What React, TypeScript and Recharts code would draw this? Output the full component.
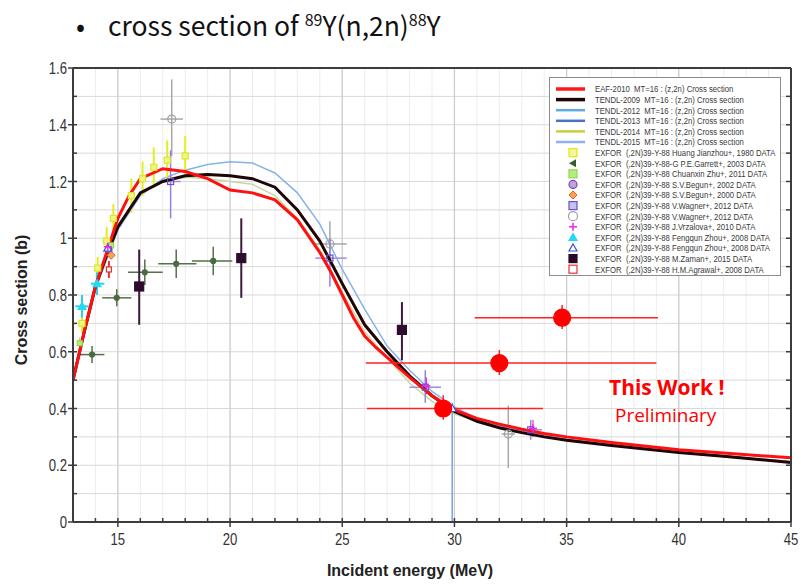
import React from 'react';
import {
  ComposedChart,
  Line,
  Scatter,
  XAxis,
  YAxis,
  CartesianGrid,
  ReferenceLine,
  ErrorBar,
} from 'recharts';

// ---- evaluated cross sections (energy in MeV, cross section in b) ----
const EAF_2010_E = [13, 13.5, 14, 14.5, 15, 15.5, 16, 17, 18, 19, 20, 21, 22, 23, 24, 24.5, 25, 25.5, 26, 26.5, 27, 28, 29, 30, 31, 32, 33, 34, 35, 37, 40, 42, 45];
const EAF_2010_XS = [0.5, 0.67, 0.83, 0.95, 1.07, 1.15, 1.21, 1.245, 1.235, 1.21, 1.17, 1.16, 1.135, 1.065, 0.95, 0.88, 0.8, 0.72, 0.655, 0.615, 0.58, 0.51, 0.445, 0.395, 0.365, 0.345, 0.327, 0.312, 0.3, 0.28, 0.255, 0.243, 0.226];

const TENDL_2009_E = [13, 13.5, 14, 14.5, 15, 16, 17, 18, 19, 20, 21, 22, 23, 24, 25, 26, 27, 28, 29, 30, 31, 32, 33, 34, 35, 37, 40, 42, 45];
const TENDL_2009_XS = [0.5, 0.67, 0.83, 0.94, 1.04, 1.16, 1.2, 1.22, 1.225, 1.22, 1.21, 1.18, 1.1, 0.99, 0.84, 0.695, 0.6, 0.515, 0.445, 0.39, 0.355, 0.332, 0.315, 0.3, 0.288, 0.27, 0.245, 0.232, 0.21];

const TENDL_2012_E = [13, 14, 15, 16, 17, 18, 19, 20, 21, 22, 23, 24, 25, 26, 27, 28, 29, 30, 32, 35, 40, 45];
const TENDL_2012_XS = [0.5, 0.83, 1.04, 1.16, 1.2, 1.22, 1.225, 1.22, 1.21, 1.18, 1.1, 0.99, 0.84, 0.695, 0.6, 0.515, 0.445, 0.39, 0.332, 0.288, 0.245, 0.21];

const TENDL_2013_E = [13, 14, 15, 16, 17, 18, 19, 20, 21, 22, 23, 24, 25, 26, 27, 28, 29, 30, 32, 35, 40, 45];
const TENDL_2013_XS = [0.5, 0.83, 1.04, 1.16, 1.2, 1.22, 1.225, 1.22, 1.21, 1.18, 1.1, 0.99, 0.84, 0.695, 0.6, 0.515, 0.445, 0.39, 0.332, 0.288, 0.245, 0.21];

const TENDL_2014_E = [13, 14, 15, 16, 17, 18, 19, 20, 21, 22, 23, 24, 25, 26, 27, 28, 29, 30, 32, 35, 40, 45];
const TENDL_2014_XS = [0.5, 0.83, 1.04, 1.16, 1.2, 1.215, 1.21, 1.2, 1.19, 1.15, 1.07, 0.96, 0.81, 0.67, 0.58, 0.49, 0.425, 0.38, 0.33, 0.287, 0.244, 0.21];

const TENDL_2015_E = [13, 14, 15, 16, 17, 18, 19, 20, 21, 22, 23, 24, 25, 26, 27, 28, 29, 30, 31, 32, 33, 35, 40, 45];
const TENDL_2015_XS = [0.5, 0.82, 1.03, 1.15, 1.21, 1.24, 1.26, 1.27, 1.265, 1.23, 1.16, 1.05, 0.89, 0.75, 0.62, 0.535, 0.46, 0.405, 0.365, 0.34, 0.32, 0.292, 0.248, 0.213];

// ---- EXFOR measurements: energy, value, energy range, value range ----
const HUANG_E = [13.4, 14.1, 14.5, 14.8, 15.6, 16.1, 16.6, 17.2, 18.0];
const HUANG_XS = [0.7, 0.895, 0.99, 1.07, 1.15, 1.21, 1.25, 1.275, 1.29];
const HUANG_DXS = [0.03, 0.04, 0.05, 0.05, 0.06, 0.06, 0.07, 0.07, 0.07];

const GARRETT_E = [13.85, 14.95, 16.2, 17.6, 19.25];
const GARRETT_XS = [0.59, 0.79, 0.88, 0.91, 0.92];
const GARRETT_E_LO = [13.3, 14.3, 15.45, 16.8, 18.3];
const GARRETT_E_HI = [14.4, 15.6, 17.0, 18.5, 20.1];
const GARRETT_DXS = [0.03, 0.03, 0.045, 0.05, 0.05];

const ZHU_E = [13.3, 14.7];
const ZHU_XS = [0.63, 0.975];
const ZHU_DXS = [0.02, 0.03];

const BEGUN02_E = [14.6];
const BEGUN02_XS = [0.96];
const BEGUN00_E = [14.7];
const BEGUN00_XS = [0.94];

const WAGNER_SQ_E = [17.35, 24.45, 28.7, 33.4];
const WAGNER_SQ_XS = [1.2, 0.93, 0.475, 0.325];
const WAGNER_SQ_E_LO = [16.95, 23.8, 28.0, 32.7];
const WAGNER_SQ_E_HI = [17.8, 25.2, 29.4, 33.9];
const WAGNER_SQ_XS_LO = [1.07, 0.83, 0.42, 0.29];
const WAGNER_SQ_XS_HI = [1.31, 1.0, 0.535, 0.36];

const WAGNER_CI_E = [17.4, 24.45, 32.4];
const WAGNER_CI_XS = [1.42, 0.98, 0.31];
const WAGNER_CI_E_LO = [16.9, 23.8, 32.1];
const WAGNER_CI_E_HI = [17.9, 25.2, 32.7];
const WAGNER_CI_XS_LO = [1.29, 0.93, 0.19];
const WAGNER_CI_XS_HI = [1.56, 1.06, 0.41];

const VRZALOVA_E = [14.55, 28.75, 33.5];
const VRZALOVA_XS = [0.97, 0.48, 0.33];
const VRZALOVA_DXS = [0.03, 0.03, 0.03];

const ZHOU_F_E = [13.4, 14.07];
const ZHOU_F_XS = [0.76, 0.84];
const ZHOU_F_E_LO = [13.1, 13.8];
const ZHOU_F_E_HI = [13.7, 14.4];
const ZHOU_F_DXS = [0.04, 0.04];

const ZHOU_O_E = [14.55, 29.9];
const ZHOU_O_XS = [0.965, 0.4];
const ZHOU_O_XS_LO = [0.94, 0.0];
const ZHOU_O_XS_HI = [0.99, 0.42];

const ZAMAN_E = [15.95, 20.5, 27.66];
const ZAMAN_XS = [0.83, 0.93, 0.677];
const ZAMAN_XS_LO = [0.695, 0.79, 0.57];
const ZAMAN_XS_HI = [0.96, 1.07, 0.775];

const AGRAWAL_E = [14.6];
const AGRAWAL_XS = [0.89];
const AGRAWAL_DXS = [0.03];

// ---- this work (preliminary) ----
const THIS_WORK_E = [29.5, 32.0, 34.8];
const THIS_WORK_XS = [0.4, 0.56, 0.72];
const THIS_WORK_E_LO = [26.1, 26.05, 30.9];
const THIS_WORK_E_HI = [33.95, 39.0, 39.07];
const THIS_WORK_XS_LO = [0.36, 0.518, 0.68];
const THIS_WORK_XS_HI = [0.447, 0.606, 0.765];

// ---- axes ----
const X_TICKS = [13, 14, 15, 16, 17, 18, 19, 20, 21, 22, 23, 24, 25, 26, 27, 28, 29, 30, 31, 32, 33, 34, 35, 36, 37, 38, 39, 40, 41, 42, 43, 44, 45];
const X_MAJOR = [15, 20, 25, 30, 35, 40];
const Y_TICKS = [0, 0.1, 0.2, 0.3, 0.4, 0.5, 0.6, 0.7, 0.8, 0.9, 1, 1.1, 1.2, 1.3, 1.4, 1.5, 1.6];

const SANS = "'Liberation Sans', Arial, sans-serif";
const FRAME = '#3c3c3c';

const curve = (e: number[], xs: number[]) => e.map((x, i) => ({ x, y: xs[i] }));

const points = (
  e: number[],
  xs: number[],
  eLo?: number[],
  eHi?: number[],
  yLo?: number[],
  yHi?: number[],
) =>
  e.map((x, i) => ({
    x,
    y: xs[i],
    ex: eLo && eHi ? [x - eLo[i], eHi[i] - x] : [0, 0],
    ey: yLo && yHi ? [xs[i] - yLo[i], yHi[i] - xs[i]] : [0, 0],
  }));

const sym = (v: number[], d: number[], sign: number) => v.map((y, i) => y + sign * d[i]);

const eafData = curve(EAF_2010_E, EAF_2010_XS);
const t09Data = curve(TENDL_2009_E, TENDL_2009_XS);
const t12Data = curve(TENDL_2012_E, TENDL_2012_XS);
const t13Data = curve(TENDL_2013_E, TENDL_2013_XS);
const t14Data = curve(TENDL_2014_E, TENDL_2014_XS);
const t15Data = curve(TENDL_2015_E, TENDL_2015_XS);

const huangData = points(HUANG_E, HUANG_XS, undefined, undefined, sym(HUANG_XS, HUANG_DXS, -1), sym(HUANG_XS, HUANG_DXS, 1));
const garrettData = points(GARRETT_E, GARRETT_XS, GARRETT_E_LO, GARRETT_E_HI, sym(GARRETT_XS, GARRETT_DXS, -1), sym(GARRETT_XS, GARRETT_DXS, 1));
const zhuData = points(ZHU_E, ZHU_XS, undefined, undefined, sym(ZHU_XS, ZHU_DXS, -1), sym(ZHU_XS, ZHU_DXS, 1));
const begun02Data = points(BEGUN02_E, BEGUN02_XS);
const begun00Data = points(BEGUN00_E, BEGUN00_XS);
const wagnerSqData = points(WAGNER_SQ_E, WAGNER_SQ_XS, WAGNER_SQ_E_LO, WAGNER_SQ_E_HI, WAGNER_SQ_XS_LO, WAGNER_SQ_XS_HI);
const wagnerCiData = points(WAGNER_CI_E, WAGNER_CI_XS, WAGNER_CI_E_LO, WAGNER_CI_E_HI, WAGNER_CI_XS_LO, WAGNER_CI_XS_HI);
const vrzalovaData = points(VRZALOVA_E, VRZALOVA_XS, undefined, undefined, sym(VRZALOVA_XS, VRZALOVA_DXS, -1), sym(VRZALOVA_XS, VRZALOVA_DXS, 1));
const zhouFData = points(ZHOU_F_E, ZHOU_F_XS, ZHOU_F_E_LO, ZHOU_F_E_HI, sym(ZHOU_F_XS, ZHOU_F_DXS, -1), sym(ZHOU_F_XS, ZHOU_F_DXS, 1));
const zhouOData = points(ZHOU_O_E, ZHOU_O_XS, undefined, undefined, ZHOU_O_XS_LO, ZHOU_O_XS_HI);
const zamanData = points(ZAMAN_E, ZAMAN_XS, undefined, undefined, ZAMAN_XS_LO, ZAMAN_XS_HI);
const agrawalData = points(AGRAWAL_E, AGRAWAL_XS, undefined, undefined, sym(AGRAWAL_XS, AGRAWAL_DXS, -1), sym(AGRAWAL_XS, AGRAWAL_DXS, 1));
const thisWorkData = points(THIS_WORK_E, THIS_WORK_XS, THIS_WORK_E_LO, THIS_WORK_E_HI, THIS_WORK_XS_LO, THIS_WORK_XS_HI);

// ---- marker shapes ----
type M = { cx?: number; cy?: number };
const mSquare = (fill: string, stroke: string, s = 7) => (p: M) => (
  <rect x={(p.cx ?? 0) - s / 2} y={(p.cy ?? 0) - s / 2} width={s} height={s} fill={fill} stroke={stroke} strokeWidth={1.2} />
);
const mCircle = (fill: string, stroke: string, r = 3.5) => (p: M) => (
  <circle cx={p.cx} cy={p.cy} r={r} fill={fill} stroke={stroke} strokeWidth={1.2} />
);
const mDiamond = (fill: string, stroke: string) => (p: M) => {
  const x = p.cx ?? 0, y = p.cy ?? 0;
  return <polygon points={`${x},${y - 4} ${x + 4},${y} ${x},${y + 4} ${x - 4},${y}`} fill={fill} stroke={stroke} />;
};
const mTriangle = (fill: string, stroke: string) => (p: M) => {
  const x = p.cx ?? 0, y = p.cy ?? 0;
  return <polygon points={`${x},${y - 4} ${x + 4},${y + 3} ${x - 4},${y + 3}`} fill={fill} stroke={stroke} strokeWidth={1.2} />;
};
const mPlus = (stroke: string) => (p: M) => {
  const x = p.cx ?? 0, y = p.cy ?? 0;
  return (
    <g stroke={stroke} strokeWidth={1.5}>
      <line x1={x - 4} x2={x + 4} y1={y} y2={y} />
      <line x1={x} x2={x} y1={y - 4} y2={y + 4} />
    </g>
  );
};
const mLeftTri = (fill: string) => (p: M) => {
  const x = p.cx ?? 0, y = p.cy ?? 0;
  return <polygon points={`${x - 4},${y} ${x + 3},${y - 4} ${x + 3},${y + 4}`} fill={fill} />;
};

// narrow-looking tick label (regular sans squeezed horizontally)
const TickText = ({ x, y, anchor, children }: { x: number; y: number; anchor: 'middle' | 'end'; children: React.ReactNode }) => (
  <text
    transform={`translate(${x},${y}) scale(0.82,1)`}
    x={0}
    y={0}
    textAnchor={anchor}
    fontSize={16}
    fill="#333"
    fontFamily={SANS}
  >
    {children}
  </text>
);

// ---- axis ticks ----
const BottomTick = (props: any) => {
  const { x, y, payload } = props;
  const v = payload.value as number;
  const major = v % 5 === 0;
  return (
    <g>
      <line x1={x} x2={x} y1={y - 4} y2={major ? y + 5 : y} stroke={FRAME} strokeWidth={1.5} />
      {major && (
        <TickText x={x} y={y + 23} anchor="middle">
          {v}
        </TickText>
      )}
    </g>
  );
};

const TopTick = (props: any) => {
  const { x, y } = props;
  return <line x1={x} x2={x} y1={y} y2={y + 4} stroke={FRAME} strokeWidth={1.5} />;
};

const LeftTick = (props: any) => {
  const { x, y, payload } = props;
  const v = payload.value as number;
  const major = Math.round(v * 10) % 2 === 0;
  return (
    <g>
      <line x1={major ? x - 5 : x} x2={x + 4} y1={y} y2={y} stroke={FRAME} strokeWidth={1.5} />
      {major && (
        <TickText x={x - 6} y={y + 6} anchor="end">
          {v === 0 || v === 1 ? String(v) : v.toFixed(1)}
        </TickText>
      )}
    </g>
  );
};

const RightTick = (props: any) => {
  const { x, y } = props;
  return <line x1={x - 5} x2={x} y1={y} y2={y} stroke={FRAME} strokeWidth={1.5} />;
};

// ---- legend ----
const LEGEND_LINES = [
  { label: 'EAF-2010  MT=16 : (z,2n) Cross section', color: '#ff1a1a', w: 3.5 },
  { label: 'TENDL-2009  MT=16 : (z,2n) Cross section', color: '#1e0606', w: 3.5 },
  { label: 'TENDL-2012  MT=16 : (z,2n) Cross section', color: '#62a8e4', w: 2.5 },
  { label: 'TENDL-2013  MT=16 : (z,2n) Cross section', color: '#4a72c4', w: 2.5 },
  { label: 'TENDL-2014  MT=16 : (z,2n) Cross section', color: '#c9d040', w: 2.5 },
  { label: 'TENDL-2015  MT=16 : (z,2n) Cross section', color: '#8fb0f0', w: 2.5 },
];

const LEGEND_POINTS = [
  { label: 'EXFOR  (,2N)39-Y-88 Huang Jianzhou+, 1980 DATA', shape: mSquare('#f2f7a0', '#e0ea10', 8) },
  { label: 'EXFOR  (,2N)39-Y-88-G P.E.Garrett+, 2003 DATA', shape: mLeftTri('#3c5a30') },
  { label: 'EXFOR  (,2N)39-Y-88 Chuanxin Zhu+, 2011 DATA', shape: mSquare('#b6ec80', '#8fd850', 8) },
  { label: 'EXFOR  (,2N)39-Y-88 S.V.Begun+, 2002 DATA', shape: mCircle('#c0a0e0', '#7a4aa8', 4) },
  { label: 'EXFOR  (,2N)39-Y-88 S.V.Begun+, 2000 DATA', shape: mDiamond('#f8a060', '#ee6010') },
  { label: 'EXFOR  (,2N)39-Y-88 V.Wagner+, 2012 DATA', shape: mSquare('#c8c0f0', '#6a4fc8', 8) },
  { label: 'EXFOR  (,2N)39-Y-88 V.Wagner+, 2012 DATA', shape: mCircle('#ffffff', '#a0a0a0', 4.5) },
  { label: 'EXFOR  (,2N)39-Y-88 J.Vrzalova+, 2010 DATA', shape: mPlus('#ee22ee') },
  { label: 'EXFOR  (,2N)39-Y-88 Fengqun Zhou+, 2008 DATA', shape: mTriangle('#22dcef', '#22dcef') },
  { label: 'EXFOR  (,2N)39-Y-88 Fengqun Zhou+, 2008 DATA', shape: mTriangle('#ffffff', '#3a50d0') },
  { label: 'EXFOR  (,2N)39-Y-88 M.Zaman+, 2015 DATA', shape: mSquare('#2a0a2a', '#2a0a2a', 8) },
  { label: 'EXFOR  (,2N)39-Y-88 H.M.Agrawal+, 2008 DATA', shape: mSquare('#ffffff', '#e83030', 8) },
];

const LegendText = ({ y, children }: { y: number; children: string }) => (
  <text
    transform={`translate(45,${y}) scale(0.86,1)`}
    x={0}
    y={0}
    fontSize={9}
    fill="#3a3a3a"
    fontFamily={SANS}
    style={{ whiteSpace: 'pre' }}
  >
    {children}
  </text>
);

const ChartLegend = () => {
  const row = 10.6;
  const top = 11;
  return (
    <svg
      width={230}
      height={197}
      style={{ position: 'absolute', left: 549, top: 77, background: '#fff', border: '1px solid #8c8c8c' }}
    >
      {LEGEND_LINES.map((l, i) => (
        <g key={l.label}>
          <line x1={6} x2={35} y1={top + i * row} y2={top + i * row} stroke={l.color} strokeWidth={l.w} />
          <LegendText y={top + i * row + 3.3}>{l.label}</LegendText>
        </g>
      ))}
      {LEGEND_POINTS.map((p, j) => {
        const i = j + LEGEND_LINES.length;
        return (
          <g key={p.label + j}>
            {p.shape({ cx: 23, cy: top + i * row })}
            <LegendText y={top + i * row + 3.3}>{p.label}</LegendText>
          </g>
        );
      })}
    </svg>
  );
};

const supStyle: React.CSSProperties = { fontSize: 16, verticalAlign: 10, lineHeight: 0 };

const App: React.FC = () => {
  return (
    <div style={{ position: 'absolute', left: 0, top: 0, width: 801, height: 586, background: '#fff', overflow: 'hidden' }}>
      <div
        style={{
          position: 'absolute',
          left: 76,
          top: 6,
          fontFamily: "'Noto Sans CJK KR', 'Noto Sans', sans-serif",
          fontSize: 26.5,
          color: '#111',
          whiteSpace: 'nowrap',
          lineHeight: '38px',
        }}
      >
        <span style={{ display: 'inline-block', width: 32 }}>•</span>
        cross section of <sup style={supStyle}>89</sup>Y(n,2n)
        <sup style={supStyle}>88</sup>Y
      </div>

      <ComposedChart width={801} height={586} margin={{ top: 67, right: 9, bottom: 34, left: 33 }}>
        <CartesianGrid horizontal={false} stroke="#ededed" strokeWidth={1} />
        <CartesianGrid vertical={false} stroke="#d9d9d9" strokeWidth={1} />
        {X_MAJOR.map((v) => (
          <ReferenceLine key={v} x={v} stroke="#cccccc" strokeWidth={1.2} />
        ))}

        <XAxis
          dataKey="x"
          type="number"
          domain={[13, 45]}
          ticks={X_TICKS}
          interval={0}
          allowDataOverflow
          tickLine={false}
          tickSize={0}
          tickMargin={0}
          tick={<BottomTick />}
          axisLine={{ stroke: FRAME, strokeWidth: 2 }}
          height={30}
        />
        <YAxis
          type="number"
          domain={[0, 1.6]}
          ticks={Y_TICKS}
          interval={0}
          allowDataOverflow
          tickLine={false}
          tickSize={0}
          tickMargin={0}
          tick={<LeftTick />}
          axisLine={{ stroke: FRAME, strokeWidth: 2 }}
          width={40}
        />
        <XAxis
          xAxisId="top"
          orientation="top"
          type="number"
          domain={[13, 45]}
          ticks={X_TICKS}
          interval={0}
          allowDataOverflow
          tickLine={false}
          tickSize={0}
          tickMargin={0}
          tick={<TopTick />}
          axisLine={{ stroke: FRAME, strokeWidth: 2 }}
          height={1}
        />
        <YAxis
          yAxisId="right"
          orientation="right"
          type="number"
          domain={[0, 1.6]}
          ticks={Y_TICKS}
          interval={0}
          allowDataOverflow
          tickLine={false}
          tickSize={0}
          tickMargin={0}
          tick={<RightTick />}
          axisLine={{ stroke: FRAME, strokeWidth: 2 }}
          width={1}
        />

        <Line data={t12Data} dataKey="y" type="linear" stroke="#62a8e4" strokeWidth={1.5} dot={false} isAnimationActive={false} />
        <Line data={t13Data} dataKey="y" type="linear" stroke="#4a72c4" strokeWidth={1.5} dot={false} isAnimationActive={false} />
        <Line data={t15Data} dataKey="y" type="linear" stroke="#86b2e6" strokeWidth={1.5} dot={false} isAnimationActive={false} />
        <Line data={t14Data} dataKey="y" type="linear" stroke="#c8d8a0" strokeWidth={1.5} dot={false} isAnimationActive={false} />

        <Scatter data={huangData} dataKey="y" shape={mSquare('#eef590', '#dde820', 6)} isAnimationActive={false}>
          <ErrorBar dataKey="ey" direction="y" stroke="#e2ee20" strokeWidth={2} width={0} />
        </Scatter>
        <Scatter data={garrettData} dataKey="y" shape={mCircle('#4a6a40', '#4a6a40', 2.5)} isAnimationActive={false}>
          <ErrorBar dataKey="ex" direction="x" stroke="#556f4a" strokeWidth={1.5} width={0} />
          <ErrorBar dataKey="ey" direction="y" stroke="#556f4a" strokeWidth={1.5} width={0} />
        </Scatter>
        <Scatter data={zhuData} dataKey="y" shape={mSquare('#b6ec80', '#8fd850', 5)} isAnimationActive={false}>
          <ErrorBar dataKey="ey" direction="y" stroke="#9ee060" strokeWidth={1.5} width={0} />
        </Scatter>
        <Scatter data={begun02Data} dataKey="y" shape={mCircle('#c0a0e0', '#7a4aa8', 3)} isAnimationActive={false} />
        <Scatter data={begun00Data} dataKey="y" shape={mDiamond('#f8a060', '#ee6010')} isAnimationActive={false} />
        <Scatter data={zhouFData} dataKey="y" shape={mTriangle('#22dcef', '#22dcef')} isAnimationActive={false}>
          <ErrorBar dataKey="ex" direction="x" stroke="#2ad0f0" strokeWidth={2} width={0} />
          <ErrorBar dataKey="ey" direction="y" stroke="#2ad0f0" strokeWidth={2} width={0} />
        </Scatter>
        <Scatter data={zhouOData} dataKey="y" shape={mTriangle('#ffffff', '#3a50d0')} isAnimationActive={false}>
          <ErrorBar dataKey="ey" direction="y" stroke="#7aa2dc" strokeWidth={1.5} width={0} />
        </Scatter>
        <Scatter data={agrawalData} dataKey="y" shape={mSquare('#ffffff', '#e83030', 5)} isAnimationActive={false}>
          <ErrorBar dataKey="ey" direction="y" stroke="#ee3030" strokeWidth={2} width={0} />
        </Scatter>
        <Scatter data={wagnerCiData} dataKey="y" shape={mCircle('none', '#a0a0a0', 4)} isAnimationActive={false}>
          <ErrorBar dataKey="ex" direction="x" stroke="#a8a8a8" strokeWidth={1.5} width={0} />
          <ErrorBar dataKey="ey" direction="y" stroke="#a8a8a8" strokeWidth={1.5} width={0} />
        </Scatter>
        <Scatter data={wagnerSqData} dataKey="y" shape={mSquare('none', '#6a4fc8', 6)} isAnimationActive={false}>
          <ErrorBar dataKey="ex" direction="x" stroke="#9a8ee0" strokeWidth={1.5} width={0} />
          <ErrorBar dataKey="ey" direction="y" stroke="#9a7ee0" strokeWidth={1.5} width={0} />
        </Scatter>
        <Scatter data={vrzalovaData} dataKey="y" shape={mPlus('#ee22ee')} isAnimationActive={false}>
          <ErrorBar dataKey="ey" direction="y" stroke="#d040d0" strokeWidth={1.2} width={0} />
        </Scatter>
        <Scatter data={zamanData} dataKey="y" shape={mSquare('#2d0c2d', '#2d0c2d', 9)} isAnimationActive={false}>
          <ErrorBar dataKey="ey" direction="y" stroke="#3c1a3c" strokeWidth={2} width={0} />
        </Scatter>

        <Line data={t09Data} dataKey="y" type="linear" stroke="#1e0606" strokeWidth={3} dot={false} isAnimationActive={false} />
        <Line data={eafData} dataKey="y" type="linear" stroke="#ff1010" strokeWidth={3} dot={false} isAnimationActive={false} />

        <Scatter data={thisWorkData} dataKey="y" shape={mCircle('#ff0000', '#ff0000', 8.5)} isAnimationActive={false}>
          <ErrorBar dataKey="ex" direction="x" stroke="#ff2020" strokeWidth={1.5} width={0} />
          <ErrorBar dataKey="ey" direction="y" stroke="#ff2020" strokeWidth={1.5} width={0} />
        </Scatter>
      </ComposedChart>

      <ChartLegend />

      <div style={{ position: 'absolute', left: 22, top: 300, width: 0, height: 0 }}>
        <div
          style={{
            position: 'absolute',
            left: 0,
            top: 0,
            transform: 'translate(-50%, -50%) rotate(-90deg)',
            whiteSpace: 'nowrap',
            fontFamily: SANS,
            fontWeight: 'bold',
            fontSize: 16,
            color: '#222',
          }}
        >
          Cross section (b)
        </div>
      </div>

      <div
        style={{
          position: 'absolute',
          left: 410,
          top: 562,
          transform: 'translateX(-50%)',
          whiteSpace: 'nowrap',
          fontFamily: SANS,
          fontWeight: 'bold',
          fontSize: 16,
          color: '#222',
        }}
      >
        Incident energy (MeV)
      </div>

      <div
        style={{
          position: 'absolute',
          left: 609,
          top: 373,
          fontFamily: "'Open Sans', 'Noto Sans', sans-serif",
          fontWeight: 'bold',
          fontSize: 21,
          color: '#ff0000',
          whiteSpace: 'nowrap',
          lineHeight: '28px',
        }}
      >
        This Work !
      </div>
      <div
        style={{
          position: 'absolute',
          left: 615,
          top: 401,
          fontFamily: "'Open Sans', 'Noto Sans', sans-serif",
          fontSize: 19,
          color: '#ff0000',
          whiteSpace: 'nowrap',
          lineHeight: '28px',
        }}
      >
        Preliminary
      </div>
    </div>
  );
};

export default App;
